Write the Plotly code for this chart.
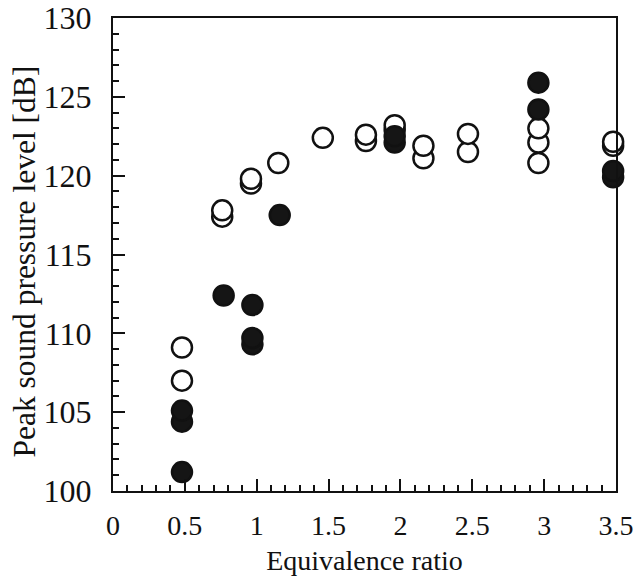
import plotly.graph_objects as go

# Open circles
open_x = [0.48, 0.48, 0.76, 0.76, 0.96, 0.96, 1.15, 1.46, 1.76, 1.76, 1.96, 1.96,
          2.16, 2.16, 2.47, 2.47, 2.96, 2.96, 2.96, 3.48, 3.48]
open_y = [107.0, 109.1, 117.4, 117.8, 119.5, 119.8, 120.8, 122.4, 122.2, 122.6, 122.9, 123.2,
          121.1, 121.9, 121.5, 122.65, 120.8, 122.1, 123.0, 121.9, 122.15]

# Filled circles
filled_x = [0.48, 0.48, 0.48, 0.77, 0.97, 0.97, 0.97, 1.16, 1.96, 1.96, 2.96, 2.96, 3.48, 3.48]
filled_y = [101.2, 104.4, 105.1, 112.4, 109.3, 109.7, 111.8, 117.5, 122.1, 122.5, 124.2, 125.9, 119.9, 120.3]

x_title = "Equivalence ratio"
y_title = "Peak sound pressure level [dB]"

FONT = "Liberation Serif, Times New Roman, serif"

fig = go.Figure()
fig.add_trace(go.Scatter(
    x=open_x, y=open_y, mode="markers",
    marker=dict(symbol="circle", size=20, color="white",
                line=dict(color="#111111", width=2.5)),
    showlegend=False, cliponaxis=False))
fig.add_trace(go.Scatter(
    x=filled_x, y=filled_y, mode="markers",
    marker=dict(symbol="circle", size=20, color="#151515",
                line=dict(color="#111111", width=2.5)),
    showlegend=False, cliponaxis=False))

fig.update_layout(
    width=639, height=586,
    margin=dict(l=113, r=23, t=18, b=95),
    paper_bgcolor="white", plot_bgcolor="white",
    font=dict(family=FONT, size=28, color="#111111"),
)
fig.update_xaxes(
    range=[0, 3.5], dtick=0.5, tick0=0, automargin=False,
    showgrid=False, zeroline=False,
    showline=True, linewidth=2, linecolor="#111111", mirror=True,
    ticks="inside", ticklen=12, tickwidth=1.5, tickcolor="#111111",
    minor=dict(dtick=0.1, ticks="inside", ticklen=6, tickwidth=1.5, tickcolor="#111111", showgrid=False),
    ticklabelstandoff=8, tickfont=dict(size=28), ticklabeloverflow="allow",
    title=dict(text=x_title, font=dict(family=FONT, size=28), standoff=11),
)
fig.update_yaxes(
    range=[100, 130], dtick=5, tick0=100, automargin=False,
    showgrid=False, zeroline=False,
    showline=True, linewidth=2, linecolor="#111111", mirror=True,
    ticks="inside", ticklen=12, tickwidth=1.5, tickcolor="#111111",
    minor=dict(dtick=1, ticks="inside", ticklen=6, tickwidth=1.5, tickcolor="#111111", showgrid=False),
    ticklabelstandoff=13, tickfont=dict(size=32), ticklabeloverflow="allow",
)
fig.add_annotation(
    text=y_title, textangle=-90, showarrow=False,
    xref="paper", yref="paper", x=0, y=0.485,
    xanchor="center", yanchor="middle", xshift=-88,
    font=dict(family=FONT, size=31.5, color="#111111"),
)

# remove the default 8px page margin so the figure fills the window exactly
fig.write_html("out.html", config={"displayModeBar": False},
               post_script="document.body.style.margin='0';")
